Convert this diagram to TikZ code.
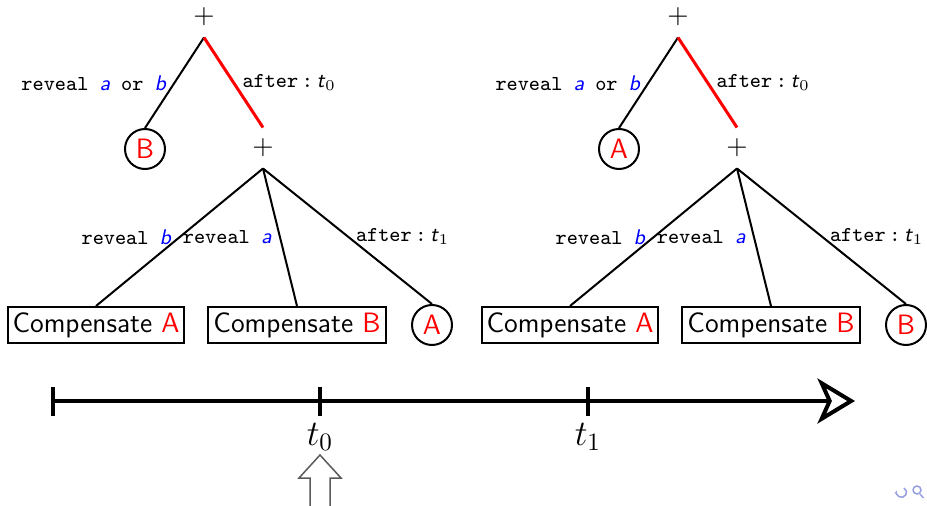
\documentclass[tikz,border=0pt]{standalone}
\usepackage{xcolor}
\usepackage{tikz}
\usetikzlibrary{arrows.meta, positioning}
\definecolor{navblue}{RGB}{150, 160, 225}
\definecolor{arrowgray}{RGB}{90, 90, 90}
\newcommand{\keya}{{\sffamily\itshape\color{blue}a}}
\newcommand{\keyb}{{\sffamily\itshape\color{blue}b}}

\begin{document}
\begin{tikzpicture}[x=0.4pt, y=-0.4pt, >=Stealth,
    font=\sffamily\fontsize{11.2}{13}\selectfont,
    plus/.style={minimum size=16pt, inner sep=0pt},
    leaf/.style={draw, thick, circle, minimum size=16pt, inner sep=0pt, text=red},
    comp/.style={draw, thick, inner sep=2pt, minimum height=14.4pt},
    lbl/.style={font=\ttfamily\fontsize{8.5}{10}\selectfont, inner sep=3pt},
    branch/.style={thick}]
    \useasboundingbox (0,0) rectangle (927,506);

    % the two contract trees
    \foreach \i/\s/\first/\last in {1/0/B/A, 2/474/A/B} {
        \node[plus] (r\i) at ({\s+204},17) {$+$};
        \node[leaf] (o\i) at ({\s+145},149) {\first};
        \node[plus] (p\i) at ({\s+263},148) {$+$};
        \node[comp] (ca\i) at ({\s+96},325) {Compensate \textcolor{red}{A}};
        \node[comp] (cb\i) at ({\s+297},325) {Compensate \textcolor{red}{B}};
        \node[leaf] (l\i) at ({\s+432},325) {\last};
        \draw[branch] (r\i.south) -- node[lbl, left] {reveal \keya{} or \keyb} (o\i.north);
        \draw[very thick, draw=red] (r\i.south) -- node[lbl, right] {after\,:\,\textsf{\textit{t}}$_0$} (p\i.north);
        \draw[branch] (p\i.south) -- node[lbl, left] {reveal \keyb} (ca\i.north);
        \draw[branch] (p\i.south) -- node[lbl, left] {reveal \keya} (cb\i.north);
        \draw[branch] (p\i.south) -- node[lbl, right] {after\,:\,\textsf{\textit{t}}$_1$} (l\i.north);
    }

    % time line
    \coordinate (ts) at (53,401);
    \coordinate (te) at (855,401);
    \draw[ultra thick, -{Stealth[open, length=15pt, width=18pt, inset=4pt]}] (ts) -- (te);
    \foreach \x in {53, 320, 588}
        \draw[ultra thick] (\x,387) -- (\x,416);
    \node (lt0) at (320,437) {\Large $t_0$};
    \node (lt1) at (588,437) {\Large $t_1$};

    % current time marker
    \draw[arrowgray, semithick] (330,510) -- (330,478) -- (341,478) -- (320,455)
        -- (299,478) -- (310,478) -- (310,510);

    % navigation symbols
    \draw[navblue, semithick, ->, >={Stealth[length=1.5pt]}]
        (904,488) arc[start angle=60, end angle=-200, radius=2pt];
    \draw[navblue, semithick] (917,490) circle (4);
    \draw[navblue, semithick] (920,494) -- (923.5,498);
\end{tikzpicture}
\end{document}
